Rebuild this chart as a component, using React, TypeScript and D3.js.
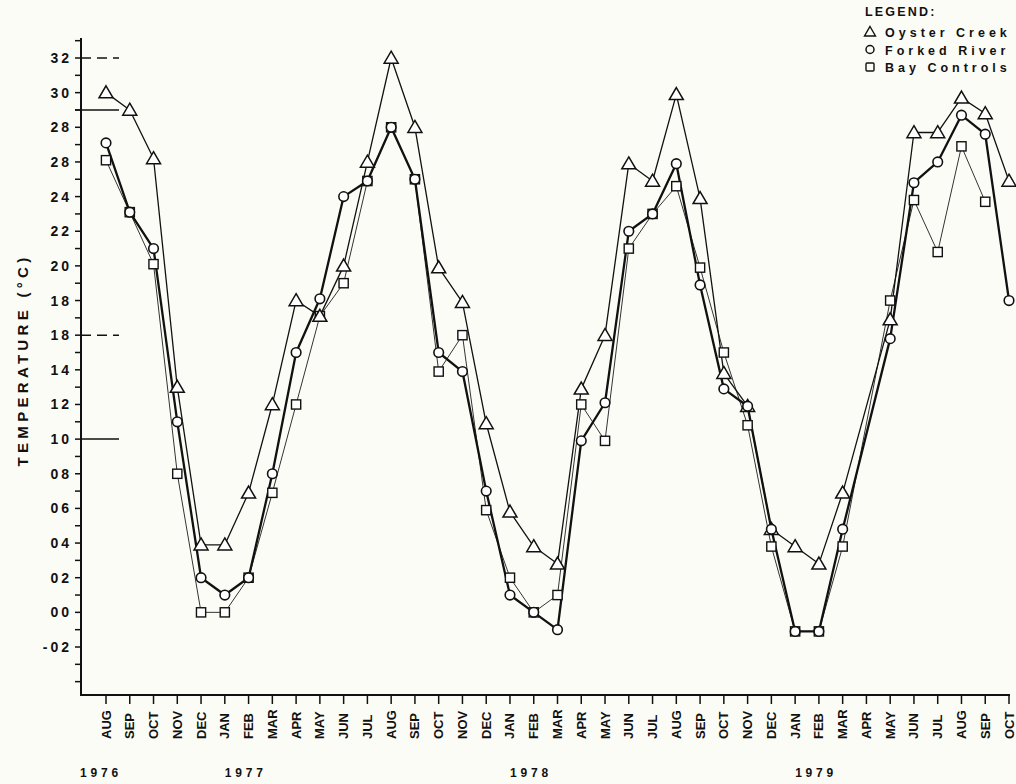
import { useMemo } from 'react';
import * as d3 from 'd3';

const months = [
    'AUG', 'SEP', 'OCT', 'NOV', 'DEC', 'JAN', 'FEB', 'MAR', 'APR', 'MAY', 'JUN', 'JUL',
    'AUG', 'SEP', 'OCT', 'NOV', 'DEC', 'JAN', 'FEB', 'MAR', 'APR', 'MAY', 'JUN', 'JUL',
    'AUG', 'SEP', 'OCT', 'NOV', 'DEC', 'JAN', 'FEB', 'MAR', 'APR', 'MAY', 'JUN', 'JUL',
    'AUG', 'SEP', 'OCT'
];

// year label anchored at month index
const years = [
    { label: '1976', at: 0 },
    { label: '1977', at: 5 },
    { label: '1978', at: 17 },
    { label: '1979', at: 29 }
];

// temperature (°C), null = not sampled
const oysterCreek = [
    30.0, 29.0, 26.2, 13.0, 3.9, 3.9, 6.9, 12.0, 18.0, 17.1, 20.0, 26.0,
    32.0, 28.0, 19.9, 17.9, 10.9, 5.8, 3.8, 2.8, 12.9, 16.0, 25.9, 24.9,
    29.9, 23.9, 13.8, 11.9, 4.8, 3.8, 2.8, 6.9, null, 16.9, 27.7, 27.7,
    29.7, 28.8, 24.9
];
const forkedRiver = [
    27.1, 23.1, 21.0, 11.0, 2.0, 1.0, 2.0, 8.0, 15.0, 18.1, 24.0, 24.9,
    28.0, 25.0, 15.0, 13.9, 7.0, 1.0, 0.0, -1.0, 9.9, 12.1, 22.0, 23.0,
    25.9, 18.9, 12.9, 11.9, 4.8, -1.1, -1.1, 4.8, null, 15.8, 24.8, 26.0,
    28.7, 27.6, 18.0
];
const bayControls = [
    26.1, 23.1, 20.1, 8.0, 0.0, 0.0, 2.0, 6.9, 12.0, 17.1, 19.0, 24.9,
    28.0, 25.0, 13.9, 16.0, 5.9, 2.0, 0.0, 1.0, 12.0, 9.9, 21.0, 23.0,
    24.6, 19.9, 15.0, 10.8, 3.8, -1.1, -1.1, 3.8, null, 18.0, 23.8, 20.8,
    26.9, 23.7, null
];

// tick labels as printed on the original
const yTickValues = [32, 30, 28, 26, 24, 22, 20, 18, 16, 14, 12, 10, 8, 6, 4, 2, 0, -2];
const yTickLabels = ['32', '30', '28', '28', '24', '22', '20', '18', '18', '14', '12', '10', '08', '06', '04', '02', '00', '-02'];

// short marks drawn against the y axis
const axisMarks = [
    { value: 32, dashed: true },
    { value: 29, dashed: false },
    { value: 16, dashed: true },
    { value: 10, dashed: false }
];

const legendItems = ['Oyster Creek', 'Forked River', 'Bay Controls'];

const FONT = '"Liberation Sans", Arial, Helvetica, sans-serif';
const INK = '#111';

function Marker({ kind, cx, cy }: { kind: string; cx: number; cy: number }) {
    if (kind === 'tri') {
        return <path d={`M${cx},${cy - 6.8}L${cx + 7},${cy + 5.2}L${cx - 7},${cy + 5.2}Z`}
            fill="#fff" stroke={INK} strokeWidth={1.5} strokeLinejoin="miter" />;
    }
    if (kind === 'circ') {
        return <circle cx={cx} cy={cy} r={4.8} fill="#fff" stroke={INK} strokeWidth={1.6} />;
    }
    return <rect x={cx - 4.6} y={cy - 4.6} width={9.2} height={9.2} fill="#fff" stroke={INK} strokeWidth={1.4} />;
}

export default function App() {
    const W = 1016, H = 784;
    const x = d3.scaleLinear().domain([0, months.length - 1]).range([106, 1009]);
    const y = d3.scaleLinear().domain([-2, 32]).range([647, 58]);
    const axisX = 81, axisBottom = 695, axisTop = 38;

    const series = useMemo(() => ([
        { name: 'bay', values: bayControls, kind: 'sq', width: 1, color: '#333' },
        { name: 'oyster', values: oysterCreek, kind: 'tri', width: 1.3, color: INK },
        { name: 'forked', values: forkedRiver, kind: 'circ', width: 2.3, color: INK }
    ]), []);

    const line = d3.line<[number, number]>()
        .x(d => x(d[0]))
        .y(d => y(d[1]));

    const pts = (vals: (number | null)[]) =>
        vals.map((v, i) => [i, v] as [number, number | null])
            .filter(d => d[1] !== null) as [number, number][];

    const minorTicks = d3.range(-4, 34);

    return (
        <svg width={W} height={H} viewBox={`0 0 ${W} ${H}`}
            style={{ position: 'absolute', left: 0, top: 0, background: '#fcfcf7' }}
            fontFamily={FONT} fontWeight="bold" fill={INK}>
            {/* y axis */}
            <line x1={axisX} x2={axisX} y1={axisTop} y2={axisBottom + 1} stroke={INK} strokeWidth={2} />
            {minorTicks.map(t => (
                <line key={'yt' + t} x1={axisX - 6} x2={axisX} y1={y(t)} y2={y(t)} stroke={INK} strokeWidth={1.5} />
            ))}
            {yTickValues.map((t, i) => (
                <text key={'yl' + t} x={axisX - 9} y={y(t) + 5} textAnchor="end"
                    fontSize={14} letterSpacing={3}>{yTickLabels[i]}</text>
            ))}
            {axisMarks.map(m => (
                <line key={'m' + m.value} x1={m.value === 29 ? axisX - 6 : axisX} x2={axisX + 38}
                    y1={y(m.value)} y2={y(m.value)} stroke={INK} strokeWidth={1.5}
                    strokeDasharray={m.dashed ? '10 6' : undefined} />
            ))}
            <text transform={`translate(28,${360}) rotate(-90)`} textAnchor="middle"
                fontSize={15} letterSpacing={4.3}>{'TEMPERATURE  (°C)'}</text>

            {/* x axis */}
            <line x1={axisX - 1} x2={x(months.length - 1) + 1} y1={axisBottom} y2={axisBottom} stroke={INK} strokeWidth={2} />
            {months.map((m, i) => (
                <g key={'xm' + i}>
                    <line x1={x(i)} x2={x(i)} y1={axisBottom} y2={axisBottom + 9} stroke={INK} strokeWidth={1.5} />
                    <text transform={`translate(${x(i) + 4.5},${739}) rotate(-90)`} fontSize={13}>{m}</text>
                </g>
            ))}
            {years.map(yr => (
                <text key={yr.label} x={x(yr.at) - (yr.at === 0 ? 26 : 0)} y={777}
                    fontSize={12} letterSpacing={3.8}>{yr.label}</text>
            ))}

            {/* series lines */}
            {series.map(s => (
                <path key={'l' + s.name} d={line(pts(s.values)) ?? ''} fill="none"
                    stroke={s.color} strokeWidth={s.width} strokeLinejoin="round" />
            ))}
            {/* markers */}
            {series.map(s => (
                <g key={'p' + s.name}>
                    {pts(s.values).map(d => (
                        <Marker key={d[0]} kind={s.kind} cx={x(d[0])} cy={y(d[1])} />
                    ))}
                </g>
            ))}

            {/* legend */}
            <text x={865} y={16} fontSize={12.5} letterSpacing={2.2}>LEGEND:</text>
            {legendItems.map((label, i) => {
                const ly = 32 + i * 17.5;
                const kind = ['tri', 'circ', 'sq'][i];
                return (
                    <g key={label}>
                        {kind === 'tri' && <path d={`M${870},${ly - 5.5}L${875.5},${ly + 4}L${864.5},${ly + 4}Z`} fill="none" stroke={INK} strokeWidth={1.4} />}
                        {kind === 'circ' && <circle cx={870} cy={ly} r={4} fill="none" stroke={INK} strokeWidth={1.5} />}
                        {kind === 'sq' && <rect x={866} y={ly - 4} width={8} height={8} rx={1} fill="none" stroke={INK} strokeWidth={1.4} />}
                        <text x={885} y={ly + 5} fontSize={12.5} letterSpacing={4}>{label}</text>
                    </g>
                );
            })}
        </svg>
    );
}
